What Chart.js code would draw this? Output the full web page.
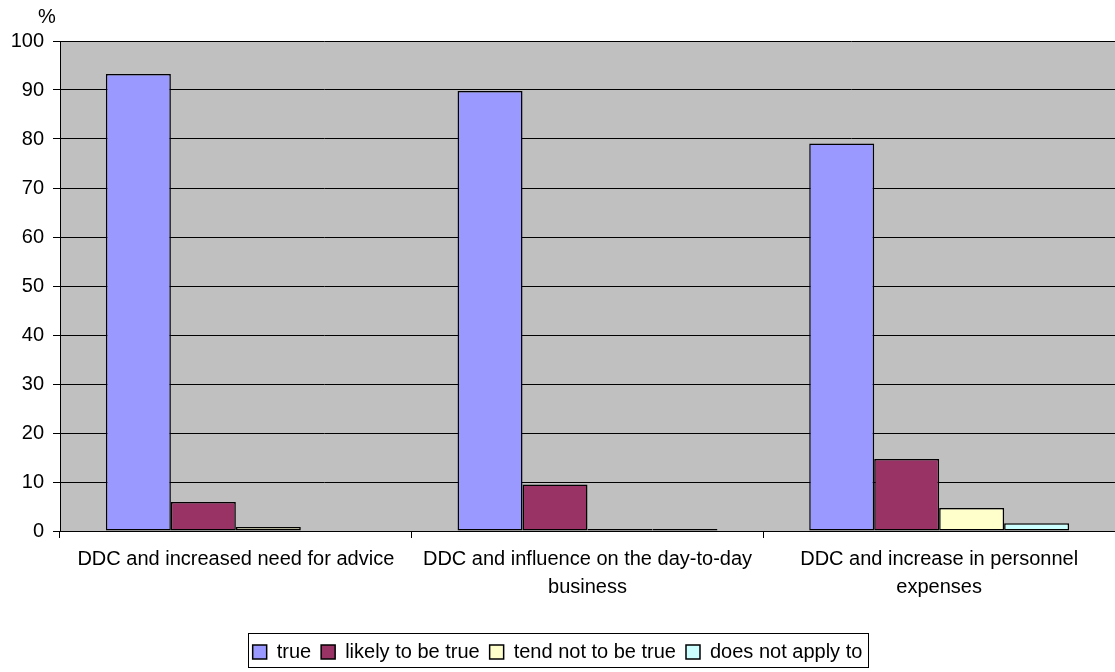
<!DOCTYPE html>
<html>
<head>
<meta charset="utf-8">
<script src="https://cdn.jsdelivr.net/npm/chart.js@4"></script>
<style>
  html, body { margin: 0; padding: 0; background: #fff; }
  #wrap { width: 1115px; height: 672px; }
</style>
</head>
<body>
<div id="wrap"><canvas id="chart1"></canvas></div>
<script>
var categories = [
    'DDC and increased need for advice',
    ['DDC and influence on the day-to-day', 'business'],
    ['DDC and increase in personnel', 'expenses']
];
var trueVals = [93.25, 89.8, 79.1];
var likelyVals = [5.9, 9.5, 14.7];
var tendNotVals = [0.8, 0.4, 4.7];
var notApplyVals = [0, 0.4, 1.6];
var yTicks = [0, 10, 20, 30, 40, 50, 60, 70, 80, 90, 100];

var font = { family: 'Liberation Sans, Arial, sans-serif', size: 20, lineHeight: 1.4 };

// grey plot background, "%" label and frame round the legend
var plotBg = {
    id: 'plotBg',
    beforeDraw: function(chart) {
        var a = chart.chartArea, c = chart.ctx;
        c.save();
        c.fillStyle = '#C0C0C0';
        c.fillRect(a.left, a.top, a.right - a.left, a.bottom - a.top);
        c.restore();
    },
    afterDraw: function(chart) {
        var c = chart.ctx;
        c.save();
        c.fillStyle = '#000';
        c.font = '20px Liberation Sans, Arial, sans-serif';
        c.textAlign = 'center';
        c.textBaseline = 'middle';
        c.fillText('%', 47, 17);
        var hb = chart.legend.legendHitBoxes;
        var l = Math.min.apply(null, hb.map(function(h) { return h.left; }));
        var r = Math.max.apply(null, hb.map(function(h) { return h.left + h.width; }));
        c.strokeStyle = '#000';
        c.lineWidth = 1;
        c.strokeRect(Math.round(l - 5) + 0.5, 633.5, Math.round(r - l + 10), 34);
        c.restore();
    }
};

var ctx = document.getElementById('chart1').getContext('2d');
var myChart = new Chart(ctx, {
    type: 'bar',
    data: {
        labels: categories,
        datasets: [
            { label: 'true', data: trueVals, backgroundColor: '#9999FF' },
            { label: 'likely to be true', data: likelyVals, backgroundColor: '#993366' },
            { label: 'tend not to be true', data: tendNotVals, backgroundColor: '#FFFFCC' },
            { label: 'does not apply to', data: notApplyVals, backgroundColor: '#CCFFFF' }
        ].map(function(d) {
            d.borderColor = '#000';
            d.borderWidth = 1.5;
            d.borderSkipped = false;
            d.categoryPercentage = 0.739;
            d.barPercentage = 1;
            return d;
        })
    },
    plugins: [plotBg],
    options: {
        responsive: true,
        maintainAspectRatio: false,
        animation: false,
        layout: { padding: { top: 41, right: 0, bottom: 0, left: 0 } },
        scales: {
            x: {
                grid: { display: true, drawOnChartArea: false, offset: true, color: '#000', tickLength: 7 },
                border: { color: '#000' },
                ticks: { color: '#000', font: font, maxRotation: 0, autoSkip: false, padding: 7 },
                afterFit: function(s) { s.height = 101; }
            },
            y: {
                min: 0,
                max: 100,
                afterBuildTicks: function(s) { s.ticks = yTicks.map(function(v) { return { value: v }; }); },
                grid: { color: '#000', tickLength: 7 },
                border: { color: '#000' },
                ticks: { color: '#000', font: font, padding: 9 },
                afterFit: function(s) { s.width = 60; }
            }
        },
        plugins: {
            legend: {
                position: 'bottom',
                labels: {
                    color: '#000',
                    font: font,
                    boxWidth: 14,
                    boxHeight: 14,
                    padding: 10,
                    useBorderRadius: false
                }
            },
            tooltip: { enabled: false }
        }
    }
});
</script>
</body>
</html>
